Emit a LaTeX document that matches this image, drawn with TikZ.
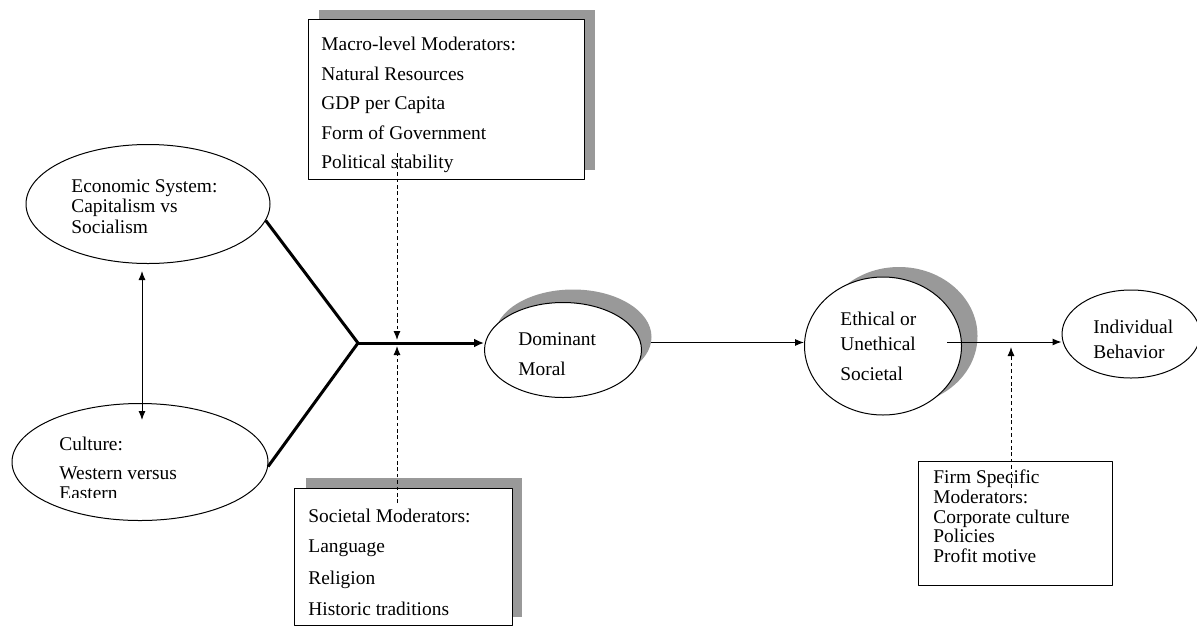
\documentclass[tikz,border=0pt]{standalone}
\usepackage{fontspec}
\setmainfont{Liberation Serif}
\usetikzlibrary{shapes.geometric,arrows.meta}
\begin{document}
\begin{tikzpicture}[x=0.5pt,y=-0.5pt,line join=round,
  >={Latex[length=4.5pt,width=3.5pt]},
  txt/.style={anchor=base west,inner sep=0pt,font=\fontsize{9.7}{11}\selectfont},
  oval/.style={draw,ellipse,inner sep=0pt,fill=white,line width=0.5pt},
  shd/.style={fill=black!40,draw=none},
  box/.style={draw,rectangle,inner sep=0pt,fill=white,line width=0.5pt},
  bold/.style={line width=1.5pt},
  dsh/.style={dash pattern=on 1.8pt off 1.4pt,line width=0.5pt}]
\useasboundingbox[fill=white] (0,0) rectangle (1197,627);
%hop tren
\fill[shd] (319,10) rectangle (595,170);
\node[box,minimum width=138pt,minimum height=80pt] (macro) at (446,99) {};
\foreach \y/\t [count=\i] in {50/Macro-level Moderators:,80/Natural Resources,109/GDP per Capita,139/Form of Government,168/Political stability}
  \node[txt] (m\i) at (321,\y) {\t};
%hop duoi
\fill[shd] (306,478) rectangle (522,617);
\node[box,minimum width=109pt,minimum height=68.5pt] (soc) at (403,556.5) {};
\foreach \y/\t [count=\i] in {522/Societal Moderators:,552/Language,584/Religion,615/Historic traditions}
  \node[txt] (s\i) at (308,\y) {\t};
%hop firm
\node[box,minimum width=97pt,minimum height=62pt] (firm) at (1015,523) {};
\foreach \y/\t [count=\i] in {483/Firm Specific,503/Moderators:,523/Corporate culture,542/Policies,562/Profit motive}
  \node[txt] (f\i) at (933,\y) {\t};
%cac ellipse
\node[oval,minimum width=122pt,minimum height=59.5pt] (econ) at (148,204) {};
\foreach \y/\t [count=\i] in {192/Economic System:,212/Capitalism vs,233/Socialism}
  \node[txt] (e\i) at (71,\y) {\t};
\node[oval,minimum width=128pt,minimum height=58.5pt] (cult) at (140,462) {};
\node[txt] (c1) at (59,450) {Culture:};
\node[txt] (c2) at (59,479) {Western versus};
\begin{scope}
  \clip (0,0) rectangle (1197,497);
  \node[txt] (c3) at (59,499) {Eastern};
\end{scope}
\node[shd,ellipse,inner sep=0pt,minimum width=78.5pt,minimum height=47.5pt] (domsh) at (573,337) {};
\node[oval,minimum width=78.5pt,minimum height=47.5pt] (dom) at (563,350) {};
\node[txt] (d1) at (518,345) {Dominant};
\node[txt] (d2) at (518,375) {Moral};
\node[shd,ellipse,inner sep=0pt,minimum width=78.5pt,minimum height=69pt] (ethsh) at (899,336) {};
\node[oval,minimum width=78.5pt,minimum height=69pt] (eth) at (883,346) {};
\foreach \y/\t [count=\i] in {325/Ethical or,350/Unethical,380/Societal}
  \node[txt] (u\i) at (840,\y) {\t};
\node[oval,minimum width=69pt,minimum height=44pt] (ind) at (1131,334) {};
\node[txt] (i1) at (1093,333) {Individual};
\node[txt] (i2) at (1093,358) {Behavior};
%duong noi
\coordinate (J) at (358,343);
\draw[bold] (econ.-8) -- (J) -- (cult.-2);
\draw[bold,-{Latex[length=5pt,width=4.5pt]}] (J) -- (J -| dom.west);
\draw[<->,line width=0.5pt] ([shift={(-6,7)}]econ.south) -- ([shift={(2,17)}]cult.north);
\draw[->,line width=0.5pt] (domsh.-4) -- (domsh.-4 -| eth.west);
\coordinate (eo) at ([shift={(64,-4)}]eth.center);
\draw[->,line width=0.5pt] (eo) -- (eo -| ind.west);
%net dut
\coordinate (mq) at (397,153); \coordinate (mt) at (397,340);
\coordinate (sq) at (397,503); \coordinate (st) at (397,346);
\coordinate (fq) at (1011,488); \coordinate (ft) at (1011,347);
\draw[dsh,->] (mq) -- (mt);
\draw[dsh,->] (sq) -- (st);
\draw[dsh,->] (fq) -- (ft);
\end{tikzpicture}
\end{document}
